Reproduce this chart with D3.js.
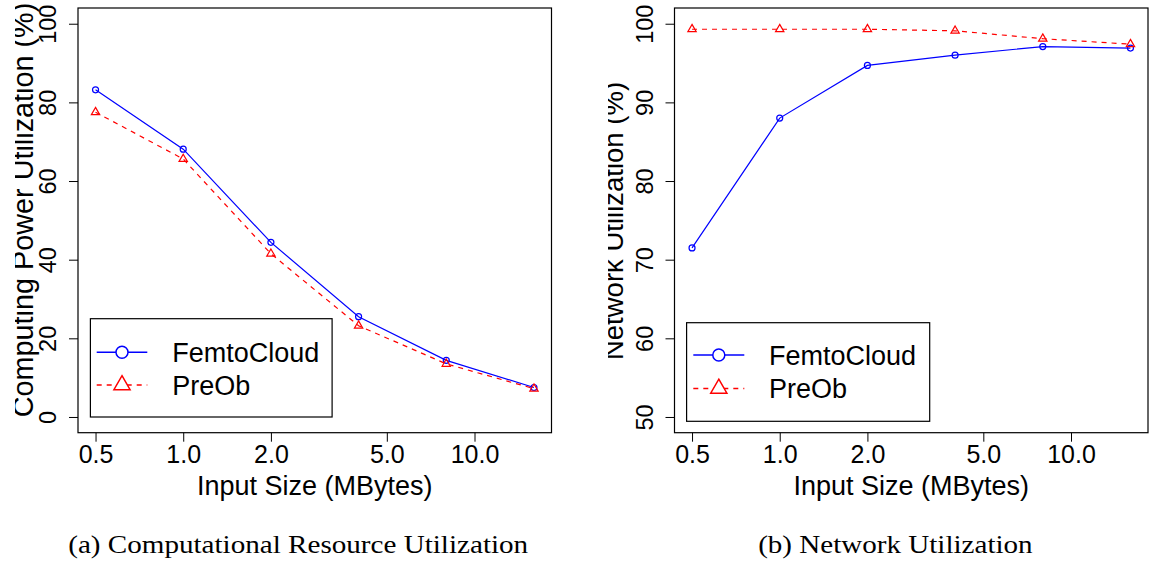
<!DOCTYPE html>
<html>
<head>
<meta charset="utf-8">
<script src="https://cdn.jsdelivr.net/npm/d3@7"></script>
<style>
  html, body { margin: 0; padding: 0; background: #fff; }
  svg { display: block; }
  text { font-family: "Liberation Sans", Arial, Helvetica, sans-serif; fill: #000; }
</style>
</head>
<body>
<svg id="chart" width="1150" height="565"></svg>
<script>
// ---------- data ----------
const inputSizes = [0.5, 1, 2, 4, 8, 16];
const xTickValues = [0.5, 1, 2, 5, 10];
const seriesNames = ["FemtoCloud", "PreOb"];

const computeFemtoCloud = [83.2, 68.1, 44.4, 25.5, 14.4, 7.5];
const computePreOb      = [77.5, 65.6, 41.5, 23.2, 13.5, 7.2];
const computeYTicks     = [0, 20, 40, 60, 80, 100];

const networkFemtoCloud = [71.5, 88.0, 94.7, 96.0, 97.1, 96.9];
const networkPreOb      = [99.3, 99.3, 99.3, 99.1, 98.1, 97.4];
const networkYTicks     = [50, 60, 70, 80, 90, 100];

const xTitle = "Input Size (MBytes)";
const captions = ["(a) Computational Resource Utilization", "(b) Network Utilization"];
const yTitles = ["Computing Power Utilization (%)", "Network Utilization (%)"];

// ---------- layout ----------
const svg = d3.select("#chart");
const BLUE = "#0000ff", RED = "#ff0000";

const panels = [
  { left: 78, right: 551.5, top: 8, bottom: 432.7, yDomain: [0, 100], yTicks: computeYTicks,
    series: [computeFemtoCloud, computePreOb], yTitle: yTitles[0], yTitleX: 33, yTitleY: 210, yTitleSize: 28.8, clipX: 15,
    yTickOff: 22.5, caption: captions[0], capX: 298.2, capW: 460,
    legend: { x: 90.4, y: 318.7, w: 241.7, h: 98.3, rows: [352.3, 385], lx0: 96.7, lx1: 147.3, tx: 172.3 } },
  { left: 674.5, right: 1148, top: 8, bottom: 432.7, yDomain: [50, 100], yTicks: networkYTicks,
    series: [networkFemtoCloud, networkPreOb], yTitle: yTitles[1], yTitleX: 623.3, yTitleY: 221, yTitleSize: 27.5, clipX: 608,
    yTickOff: 21.5, caption: captions[1], capX: 895.4, capW: 274.5,
    legend: { x: 686.6, y: 322.7, w: 243.1, h: 98.6, rows: [355, 388.5], lx0: 693.3, lx1: 744.3, tx: 769 } }
];

const TRC0 = Math.sqrt(4 * Math.PI / (3 * Math.sqrt(3)));
const TRC1 = TRC0 * Math.sqrt(3) / 2;
const TRC2 = TRC0 / 2;
function triPath(r) {
  return `M0,${-r * TRC0}L${r * TRC1},${r * TRC2}L${-r * TRC1},${r * TRC2}Z`;
}

const defs = svg.append("defs");

panels.forEach((p, pi) => {
  // scales with R-style 4% extension
  const lx0 = Math.log10(inputSizes[0]), lx1 = Math.log10(inputSizes[inputSizes.length - 1]);
  const ext = (lx1 - lx0) * 0.04;
  const x = d3.scaleLog()
    .domain([Math.pow(10, lx0 - ext), Math.pow(10, lx1 + ext)])
    .range([p.left, p.right]);
  const yr = p.yDomain[1] - p.yDomain[0];
  const y = d3.scaleLinear()
    .domain([p.yDomain[0] - yr * 0.04, p.yDomain[1] + yr * 0.04])
    .range([p.bottom, p.top]);

  const g = svg.append("g");

  // x axis
  const xAxis = g.append("g")
    .attr("transform", `translate(0,${p.bottom})`)
    .call(d3.axisBottom(x).tickValues(xTickValues).tickFormat(d3.format(".1f")).tickSize(9).tickPadding(0));
  xAxis.select(".domain").remove();
  xAxis.selectAll(".tick line").attr("stroke", "#000").attr("stroke-width", 1);
  xAxis.selectAll(".tick text")
    .attr("font-family", "Liberation Sans, Arial, sans-serif")
    .attr("font-size", 25).attr("dy", 0).attr("y", 30);

  // y axis
  const yAxis = g.append("g")
    .attr("transform", `translate(${p.left},0)`)
    .call(d3.axisLeft(y).tickValues(p.yTicks).tickSize(9));
  yAxis.select(".domain").remove();
  yAxis.selectAll(".tick line").attr("stroke", "#000").attr("stroke-width", 1);
  yAxis.selectAll(".tick text")
    .attr("font-family", "Liberation Sans, Arial, sans-serif")
    .attr("font-size", 23.5)
    .attr("transform", "rotate(-90)")
    .attr("text-anchor", "middle")
    .attr("x", 0).attr("dy", 0)
    .attr("y", -p.yTickOff);

  // box
  g.append("rect")
    .attr("x", p.left).attr("y", p.top)
    .attr("width", p.right - p.left).attr("height", p.bottom - p.top)
    .attr("fill", "none").attr("stroke", "#000").attr("stroke-width", 1.2);

  // series
  const colors = [BLUE, RED];
  const dashes = [null, "5,5"];
  p.series.forEach((vals, si) => {
    const pts = inputSizes.map((d, i) => [d, vals[i]]);
    g.append("path")
      .attr("d", d3.line().x(d => x(d[0])).y(d => y(d[1]))(pts))
      .attr("fill", "none").attr("stroke", colors[si]).attr("stroke-width", 1.2)
      .attr("stroke-dasharray", dashes[si]);
    if (si === 0) {
      g.selectAll(null).data(pts).enter().append("circle")
        .attr("cx", d => x(d[0])).attr("cy", d => y(d[1])).attr("r", 3)
        .attr("fill", "none").attr("stroke", colors[si]).attr("stroke-width", 1.2);
    } else {
      g.selectAll(null).data(pts).enter().append("path")
        .attr("d", triPath(3.1))
        .attr("transform", d => `translate(${x(d[0])},${y(d[1])})`)
        .attr("fill", "none").attr("stroke", colors[si]).attr("stroke-width", 1.2);
    }
  });

  // x title
  g.append("text")
    .attr("x", (p.left + p.right) / 2).attr("y", 495)
    .attr("text-anchor", "middle").attr("font-size", 27)
    .text(xTitle);

  // y title (clipped like the reference crop)
  const cid = "clipY" + pi;
  defs.append("clipPath").attr("id", cid).attr("clipPathUnits", "userSpaceOnUse")
    .append("rect").attr("x", p.clipX).attr("y", 0).attr("width", 200).attr("height", 565);
  g.append("g")
    .attr("clip-path", `url(#${cid})`)
    .append("text")
    .attr("transform", `translate(${p.yTitleX},${p.yTitleY}) rotate(-90)`)
    .attr("text-anchor", "middle").attr("font-size", p.yTitleSize)
    .text(p.yTitle);

  // legend
  const L = p.legend;
  const lg = g.append("g");
  lg.append("rect").attr("x", L.x).attr("y", L.y).attr("width", L.w).attr("height", L.h)
    .attr("fill", "#fff").attr("stroke", "#000").attr("stroke-width", 1.2);
  seriesNames.forEach((name, si) => {
    const ry = L.rows[si];
    lg.append("line").attr("x1", L.lx0).attr("x2", L.lx1).attr("y1", ry).attr("y2", ry)
      .attr("stroke", colors[si]).attr("stroke-width", 1.5).attr("stroke-dasharray", dashes[si]);
    const mx = (L.lx0 + L.lx1) / 2;
    if (si === 0) {
      lg.append("circle").attr("cx", mx).attr("cy", ry).attr("r", 6)
        .attr("fill", "#fff").attr("stroke", colors[si]).attr("stroke-width", 1.5);
    } else {
      lg.append("path").attr("d", triPath(6)).attr("transform", `translate(${mx},${ry})`)
        .attr("fill", "#fff").attr("stroke", colors[si]).attr("stroke-width", 1.5);
    }
    lg.append("text").attr("x", L.tx).attr("y", ry + 9.6).attr("font-size", 27).text(name);
  });

  // caption
  svg.append("text")
    .attr("x", p.capX).attr("y", 553.3)
    .attr("text-anchor", "middle")
    .style("font-family", "'Liberation Serif', 'Times New Roman', serif")
    .attr("font-size", 24.5)
    .attr("textLength", p.capW).attr("lengthAdjust", "spacingAndGlyphs")
    .text(p.caption);
});
</script>
</body>
</html>
